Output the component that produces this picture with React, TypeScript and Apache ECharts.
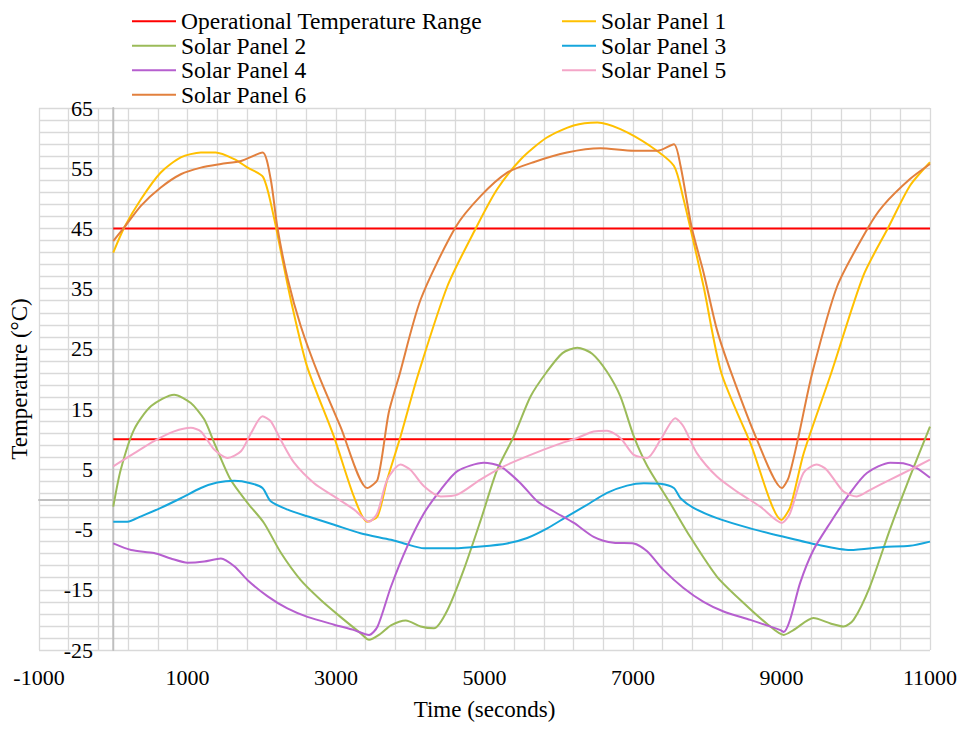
import React, { useEffect, useRef } from "react";
import * as echarts from "echarts";

const seriesNames = [
  "Operational Temperature Range",
  "Solar Panel 1",
  "Solar Panel 2",
  "Solar Panel 3",
  "Solar Panel 4",
  "Solar Panel 5",
  "Solar Panel 6",
];

const rangeUpper = [[0, 45], [11000, 45]];
const rangeLower = [[0, 10], [11000, 10]];

const panel1 = [
  [0, 41.0], [150, 45.2], [375, 49.9], [640, 54.3], [910, 56.8], [1180, 57.6], [1380, 57.6],
  [1630, 56.5], [1810, 55.1], [2020, 53.5], [2170, 46.5], [2260, 41.0], [2390, 33.2], [2610, 22.1],
  [2970, 10.5], [3240, 0.5], [3420, -3.7], [3560, -2.8], [3690, 3.3], [3870, 10.5], [4100, 20.5],
  [4500, 35.4], [4890, 45.2], [5170, 51.5], [5490, 56.5], [5840, 60.1], [6200, 62.1], [6520, 62.6],
  [6830, 61.5], [7230, 58.7], [7550, 55.4], [7680, 49.9], [7770, 45.2], [7950, 35.4], [8190, 21.0],
  [8580, 9.4], [9000, -3.4], [9120, -1.2], [9300, 7.7], [9670, 21.0], [10100, 37.1], [10440, 45.2],
  [10730, 52.1], [11000, 56.0],
];

const panel2 = [
  [0, -1.2], [100, 4.9], [280, 11.6], [510, 15.5], [820, 17.4], [1045, 16.0], [1225, 13.3],
  [1360, 9.4], [1580, 3.3], [1810, -0.6], [2030, -3.9], [2260, -8.9], [2525, -13.4], [2795, -16.7],
  [3060, -19.5], [3330, -22.2], [3445, -23.3], [3600, -22.3], [3740, -20.9], [3940, -20.1],
  [4140, -21.1], [4320, -21.4], [4500, -18.4], [4720, -11.7], [4950, -3.4], [5170, 4.9], [5395, 10.5],
  [5620, 17.1], [5840, 21.2], [6050, 24.3], [6250, 25.2], [6450, 24.2], [6650, 21.2], [6830, 17.1],
  [7010, 10.5], [7190, 5.6], [7500, -0.6], [7770, -6.2], [8130, -12.8], [8490, -17.2], [8800, -20.6],
  [9030, -22.5], [9160, -21.7], [9430, -19.7], [9660, -20.6], [9835, -21.1], [9970, -20.0],
  [10190, -14.5], [10460, -5.0], [10730, 3.8], [11000, 12.1],
];

const panel3 = [
  [0, -3.7], [190, -3.7], [375, -2.8], [640, -1.4], [910, 0.2], [1180, 1.9], [1400, 2.8], [1630, 3.1],
  [1850, 2.7], [2010, 1.9], [2120, -0.3], [2350, -1.7], [2615, -2.8], [2975, -4.2], [3330, -5.6],
  [3740, -6.7], [3915, -7.3], [4185, -8.1], [4590, -8.1], [4950, -7.8], [5305, -7.3], [5575, -6.4],
  [5845, -4.8], [6115, -2.8], [6380, -0.9], [6650, 1.1], [6920, 2.3], [7145, 2.7], [7370, 2.6],
  [7550, 1.9], [7640, 0.2], [7815, -1.4], [8130, -3.1], [8580, -4.8], [9030, -6.2], [9475, -7.5],
  [9925, -8.4], [10375, -7.9], [10730, -7.7], [11000, -7.0],
];

const panel4 = [
  [0, -7.3], [240, -8.4], [550, -8.9], [775, -9.8], [1000, -10.5], [1225, -10.3], [1450, -9.8],
  [1630, -11.1], [1810, -13.4], [2080, -16.1], [2345, -18.1], [2615, -19.5], [2975, -20.8],
  [3245, -21.7], [3445, -22.5], [3560, -21.1], [3740, -14.5], [3960, -7.8], [4185, -2.3],
  [4410, 1.6], [4635, 4.7], [4990, 6.1], [5215, 5.5], [5485, 2.7], [5710, -0.3], [5935, -2.0],
  [6205, -3.9], [6470, -6.2], [6740, -7.2], [7010, -7.3], [7190, -8.6], [7410, -11.7], [7680, -14.7],
  [7950, -17.0], [8220, -18.6], [8580, -20.0], [8985, -21.7], [9030, -22.0], [9115, -20.0],
  [9250, -13.9], [9430, -8.4], [9655, -3.9], [9925, 1.1], [10150, 4.4], [10465, 6.1], [10640, 6.0],
  [10820, 5.2], [11000, 3.6],
];

const panel5 = [
  [0, 5.5], [285, 7.7], [550, 9.7], [820, 11.3], [1045, 11.9], [1180, 11.3], [1360, 8.3],
  [1540, 6.9], [1720, 8.0], [1855, 11.0], [2010, 13.8], [2120, 13.0], [2255, 9.9], [2435, 6.1],
  [2705, 2.7], [2975, 0.5], [3245, -1.7], [3445, -3.7], [3555, -2.3], [3690, 3.3], [3870, 5.8],
  [4005, 4.9], [4185, 2.2], [4410, 0.5], [4635, 0.8], [4945, 3.3], [5260, 5.5], [5620, 7.4],
  [5980, 9.1], [6250, 10.2], [6470, 11.3], [6650, 11.4], [6830, 10.2], [7010, 7.4], [7190, 6.9],
  [7370, 9.9], [7570, 13.5], [7680, 12.1], [7860, 7.7], [8130, 3.8], [8400, 1.3], [8715, -1.2],
  [9005, -3.9], [9115, -2.3], [9295, 4.4], [9475, 5.8], [9610, 4.9], [9835, 1.3], [10015, 0.5],
  [10195, 1.6], [10465, 3.3], [10730, 4.9], [11000, 6.6],
];

const panel6 = [
  [0, 42.9], [150, 45.2], [375, 48.8], [640, 51.8], [910, 54.0], [1180, 55.1], [1450, 55.7],
  [1720, 56.2], [2010, 57.6], [2120, 53.2], [2210, 45.2], [2350, 36.6], [2525, 28.8], [2770, 20.5],
  [3060, 12.1], [3420, 1.9], [3560, 3.3], [3710, 14.4], [3850, 20.5], [4140, 33.2], [4610, 45.2],
  [4950, 50.4], [5310, 54.3], [5660, 56.0], [6110, 57.6], [6560, 58.3], [7010, 57.9], [7330, 57.9],
  [7550, 59.0], [7640, 55.4], [7790, 45.2], [7950, 37.7], [8130, 28.2], [8330, 20.8], [8670, 9.9],
  [9005, 1.9], [9095, 3.6], [9230, 10.5], [9410, 20.8], [9750, 35.4], [10170, 45.2], [10370, 48.8],
  [10730, 53.2], [11000, 55.7],
];

const colors = ["#FF0000", "#FFC000", "#9BBB59", "#16A6DC", "#B65FCF", "#F4A6C8", "#E2803E"];

const xTickStart = -1000;
const yTickStart = -25;

const FONT = "'Liberation Serif', 'Times New Roman', serif";

export default function App() {
  const ref = useRef<HTMLDivElement>(null);
  useEffect(() => {
    if (!ref.current) return;
    const chart = echarts.init(ref.current, null, { renderer: "svg" });
    const lineSeries = (name: string, data: number[][], color: string) => ({
      name,
      type: "line",
      data,
      xAxisIndex: 0,
      yAxisIndex: 0,
      showSymbol: false,
      smooth: 0.25,
      color,
      lineStyle: { width: 2, color },
      z: 3,
    });
    const textStyle = { fontFamily: FONT, fontSize: 22, color: "#000" };
    const nameStyle = { fontFamily: FONT, fontSize: 23, color: "#000" };
    const legendText = { fontFamily: FONT, fontSize: 23.5, color: "#000", lineHeight: 24.5 };
    const grid = "#D9D9D9";
    chart.setOption({
      animation: false,
      backgroundColor: "#fff",
      textStyle: { fontFamily: FONT },
      grid: { left: 38, right: 34, top: 108, bottom: 80 },
      legend: [
        {
          left: 132,
          top: 9,
          padding: 0,
          orient: "vertical",
          icon: "rect",
          itemWidth: 44,
          itemHeight: 2,
          itemGap: 0,
          data: [seriesNames[0], seriesNames[2], seriesNames[4], seriesNames[6]],
          textStyle: legendText,
        },
        {
          left: 562,
          top: 9,
          padding: 0,
          orient: "vertical",
          icon: "rect",
          itemWidth: 34,
          itemHeight: 2,
          itemGap: 0,
          data: [seriesNames[1], seriesNames[3], seriesNames[5]],
          textStyle: legendText,
        },
      ],
      xAxis: [
        {
          type: "value",
          min: -1000,
          max: 11000,
          axisLine: { show: true, onZero: true, onZeroAxisIndex: 0, lineStyle: { color: "#BFBFBF", width: 2 } },
          axisTick: { show: false },
          axisLabel: { show: false },
          splitLine: { show: false },
        },
        {
          type: "value",
          min: 0,
          max: 12000,
          interval: 2000,
          position: "bottom",
          name: "Time (seconds)",
          nameLocation: "middle",
          nameGap: 48,
          nameTextStyle: nameStyle,
          axisLine: { show: false, onZero: false },
          axisTick: { show: false },
          axisLabel: { ...textStyle, margin: 16, formatter: (v: number) => String(v + xTickStart) },
          splitLine: { show: true, lineStyle: { color: grid, width: 1.3 } },
          minorTick: { show: false, splitNumber: 5 },
          minorSplitLine: { show: true, lineStyle: { color: grid, width: 1.3 } },
        },
      ],
      yAxis: [
        {
          type: "value",
          min: -25,
          max: 65,
          axisLine: { show: true, onZero: true, onZeroAxisIndex: 0, lineStyle: { color: "#BFBFBF", width: 2 } },
          axisTick: { show: false },
          axisLabel: { show: false },
          splitLine: { show: false },
        },
        {
          type: "value",
          min: 0,
          max: 90,
          interval: 10,
          position: "left",
          name: "Temperature (°C)",
          nameLocation: "middle",
          nameGap: 8,
          nameTextStyle: nameStyle,
          axisLine: { show: false, onZero: false },
          axisTick: { show: false },
          axisLabel: { ...textStyle, margin: -54, formatter: (v: number) => String(v + yTickStart) },
          splitLine: { show: true, lineStyle: { color: grid, width: 1.3 } },
          minorTick: { show: false, splitNumber: 5 },
          minorSplitLine: { show: true, lineStyle: { color: grid, width: 1.3 } },
        },
      ],
      series: [
        lineSeries(seriesNames[0], rangeUpper, colors[0]),
        lineSeries(seriesNames[0], rangeLower, colors[0]),
        lineSeries(seriesNames[1], panel1, colors[1]),
        lineSeries(seriesNames[2], panel2, colors[2]),
        lineSeries(seriesNames[3], panel3, colors[3]),
        lineSeries(seriesNames[4], panel4, colors[4]),
        lineSeries(seriesNames[5], panel5, colors[5]),
        lineSeries(seriesNames[6], panel6, colors[6]),
      ],
    });
    return () => chart.dispose();
  }, []);
  return (
    <div
      ref={ref}
      style={{ position: "fixed", left: 0, top: 0, width: 964, height: 730 }}
    />
  );
}
